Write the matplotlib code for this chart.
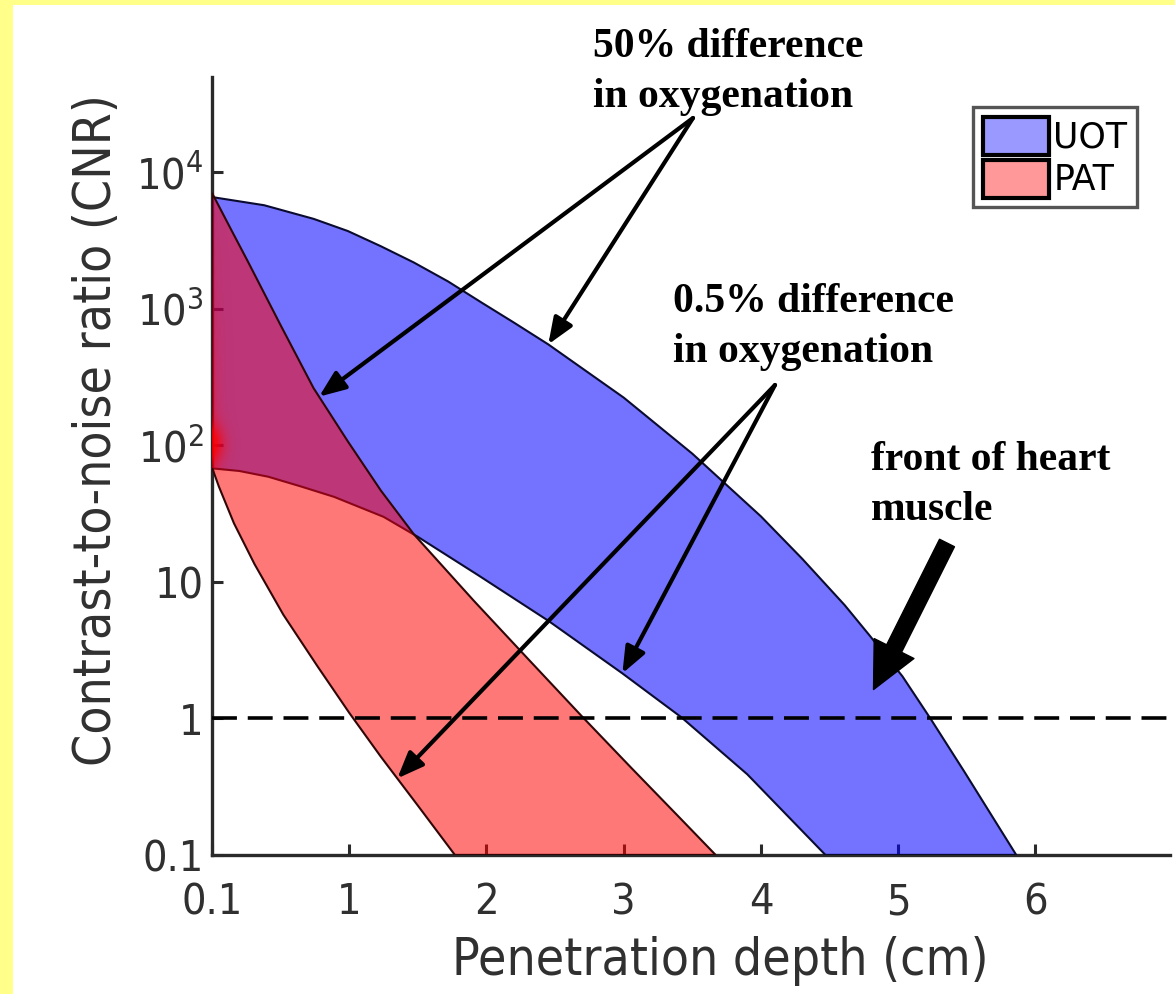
import numpy as np
import matplotlib
matplotlib.use("Agg")
import matplotlib.pyplot as plt
from matplotlib.patches import Patch, Rectangle
from matplotlib.ticker import FixedLocator, NullLocator

# ---------------------------------------------------------------------------
# CNR envelopes (upper edge = 50 % oxygenation difference, lower = 0.5 %)
# ---------------------------------------------------------------------------
uot_upper_depth = [0.0, 0.38, 0.74, 0.99, 1.23, 1.47, 1.72, 1.96, 2.2, 2.45, 3.0, 3.5,
                   4.0, 4.3, 4.61, 4.79, 5.03, 5.24, 5.48, 5.86]
uot_upper_cnr = [6600, 5750, 4570, 3720, 2880, 2190, 1590, 1120, 794, 550, 224, 87,
                 30.2, 14.8, 6.76, 4.07, 2.04, 0.98, 0.41, 0.1]

uot_lower_depth = [0.0, 0.2, 0.41, 0.65, 0.89, 1.25, 1.50, 1.94, 2.45, 2.99, 3.42, 3.9, 4.47]
uot_lower_cnr = [68, 65, 59, 50, 42, 30, 21.4, 11.2, 5.2, 2.14, 1.02, 0.39, 0.1]

pat_upper_depth = [0.0, 0.14, 0.26, 0.50, 0.74, 0.99, 1.23, 1.47, 1.91, 2.3, 2.69, 3.05, 3.42, 3.67]
pat_upper_cnr = [7080, 3800, 2240, 760, 263, 107, 46.8, 22.4, 7.24, 2.75, 1.05, 0.44, 0.182, 0.1]

pat_lower_depth = [0.0, 0.05, 0.16, 0.31, 0.52, 0.77, 1.0, 1.23, 1.5, 1.77]
pat_lower_cnr = [69, 50, 26.9, 13.5, 5.75, 2.40, 1.10, 0.525, 0.23, 0.1]

detection_threshold = 1.0

x_ticks = [0, 1, 2, 3, 4, 5, 6]
x_tick_labels = ["0.1", "1", "2", "3", "4", "5", "6"]
y_ticks = [0.1, 1, 10, 100, 1000, 10000]
y_tick_labels = ["0.1", "1", "10", r"$\mathregular{10^{2}}$", r"$\mathregular{10^{3}}$",
                 r"$\mathregular{10^{4}}$"]

series_names = ["UOT", "PAT"]

# ---------------------------------------------------------------------------
W, H = 1175, 994
plt.rcParams["font.family"] = "DejaVu Sans"
plt.rcParams["font.stretch"] = "condensed"

fig = plt.figure(figsize=(W / 100, H / 100), dpi=100)
fig.patch.set_facecolor("#ffff8a")
fig.add_artist(Rectangle((13 / W, 0), 1, (H - 5) / H, transform=fig.transFigure,
                         facecolor="white", edgecolor="none", zorder=-5))

ax = fig.add_axes([212 / W, (H - 855) / H, (1170 - 212) / W, (855 - 77) / H])
ax.set_facecolor("none")
ax.set_yscale("log")
ax.set_xlim(0, 6.98)
ax.set_ylim(0.1, 5e4)

ink = "#2a2a2a"
for side in ("top", "right"):
    ax.spines[side].set_visible(False)
for side in ("left", "bottom"):
    ax.spines[side].set_linewidth(2.4)
    ax.spines[side].set_color(ink)

ax.xaxis.set_major_locator(FixedLocator(x_ticks))
ax.set_xticklabels(x_tick_labels)
ax.yaxis.set_major_locator(FixedLocator(y_ticks))
ax.yaxis.set_minor_locator(NullLocator())
ax.set_yticklabels(y_tick_labels)
ax.tick_params(direction="in", length=8, width=2.2, color=ink, labelsize=31,
               labelcolor="#303030")
ax.tick_params(axis="x", pad=19)
ax.tick_params(axis="y", pad=6)


def band(upper_x, upper_y, lower_x, lower_y):
    xs = list(upper_x) + list(lower_x)[::-1]
    ys = list(upper_y) + list(lower_y)[::-1]
    return xs, ys


ux, uy = band(uot_upper_depth, uot_upper_cnr, uot_lower_depth, uot_lower_cnr)
ax.fill(ux, uy, facecolor=(0, 0, 1, 0.55), edgecolor="#0b0b30", linewidth=1.5, zorder=3)
px, py = band(pat_upper_depth, pat_upper_cnr, pat_lower_depth, pat_lower_cnr)
pat_patch, = ax.fill(px, py, facecolor=(1, 0, 0, 0.53), edgecolor="#300606",
                     linewidth=1.5, zorder=3.1)

# saturated red glow where the PAT curves converge at the surface
gx = np.arange(0, 60)
gy = np.arange(180, 480)
GX, GY = np.meshgrid(gx, gy)
glow = 0.7 * np.exp(-(GX / 12.0) ** 2 - ((GY - 443) / 18.0) ** 2)
glow += 0.45 * np.exp(-GX / 5.0) * np.clip((GY - 190) / 260.0, 0, 1) * (GY < 468)
rgba = np.zeros(GX.shape + (4,))
rgba[..., 0] = 1.0
rgba[..., 3] = np.clip(glow, 0, 0.85)
im = ax.imshow(rgba, extent=(0, 60 / 958, (855 - 480) / 778, (855 - 180) / 778),
               transform=ax.transAxes, aspect="auto", interpolation="bilinear", zorder=3.2)
im.set_clip_path(pat_patch)

ax.axhline(detection_threshold, color="black", linewidth=2.6, dashes=(6.9, 3.0), zorder=4)

# axis labels
fig.text(97 / W, 1 - 430 / H, "Contrast-to-noise ratio (CNR)", rotation=90,
         ha="center", va="center", fontsize=37, color="#303030")
fig.text(720 / W, 1 - 975 / H, "Penetration depth (cm)", ha="center", va="baseline",
         fontsize=37, color="#303030")

# legend
handles = [Patch(facecolor=(0, 0, 1, 0.4), edgecolor="black", linewidth=3),
           Patch(facecolor=(1, 0, 0, 0.4), edgecolor="black", linewidth=3)]
leg = ax.legend(handles, series_names, loc="upper right",
                bbox_to_anchor=(1137 / W, 1 - 107 / H), bbox_transform=fig.transFigure,
                prop=dict(family="DejaVu Sans", stretch="normal", size=25),
                frameon=True, fancybox=False, borderaxespad=0,
                handlelength=1.9, handleheight=1.3, handletextpad=0.12,
                labelspacing=0.15, borderpad=0.28)
leg.get_frame().set_edgecolor(ink)
leg.get_frame().set_linewidth(2.4)
leg.set_zorder(6)

# annotations
note_font = dict(family="Liberation Serif", weight="bold", size=30, color="black")


def note(lines, left, baselines):
    for text, base in zip(lines, baselines):
        fig.text(left / W, 1 - base / H, text, ha="left", va="baseline", **note_font)


def y_at(depth_pts, cnr_pts, d):
    return 10 ** np.interp(d, depth_pts, np.log10(cnr_pts))


thin = dict(arrowstyle="-|>,head_length=0.8,head_width=0.32", mutation_scale=20,
            lw=3, color="black", shrinkA=0, shrinkB=0)

note(["50% difference", "in oxygenation"], 593, [57, 107])
tail = (693, H - 118)
for d, xs_, ys_ in [(0.78, pat_upper_depth, pat_upper_cnr),
                    (2.45, uot_upper_depth, uot_upper_cnr)]:
    ax.annotate("", xy=(d, y_at(xs_, ys_, d)), xycoords="data",
                xytext=tail, textcoords="figure pixels", arrowprops=thin,
                annotation_clip=False, zorder=7)

note(["0.5% difference", "in oxygenation"], 673, [312, 362])
tail = (775, H - 385)
for d, xs_, ys_ in [(1.35, pat_lower_depth, pat_lower_cnr),
                    (2.99, uot_lower_depth, uot_lower_cnr)]:
    ax.annotate("", xy=(d, y_at(xs_, ys_, d)), xycoords="data",
                xytext=tail, textcoords="figure pixels", arrowprops=thin,
                annotation_clip=False, zorder=7)

note(["front of heart", "muscle"], 871, [470, 520])
ax.annotate("", xy=(4.82, 1.63), xycoords="data", xytext=(947, H - 543),
            textcoords="figure pixels",
            arrowprops=dict(width=12, headwidth=32, headlength=33, color="black", shrink=0),
            annotation_clip=False, zorder=7)

fig.savefig("out.png", dpi=100, facecolor=fig.get_facecolor())
